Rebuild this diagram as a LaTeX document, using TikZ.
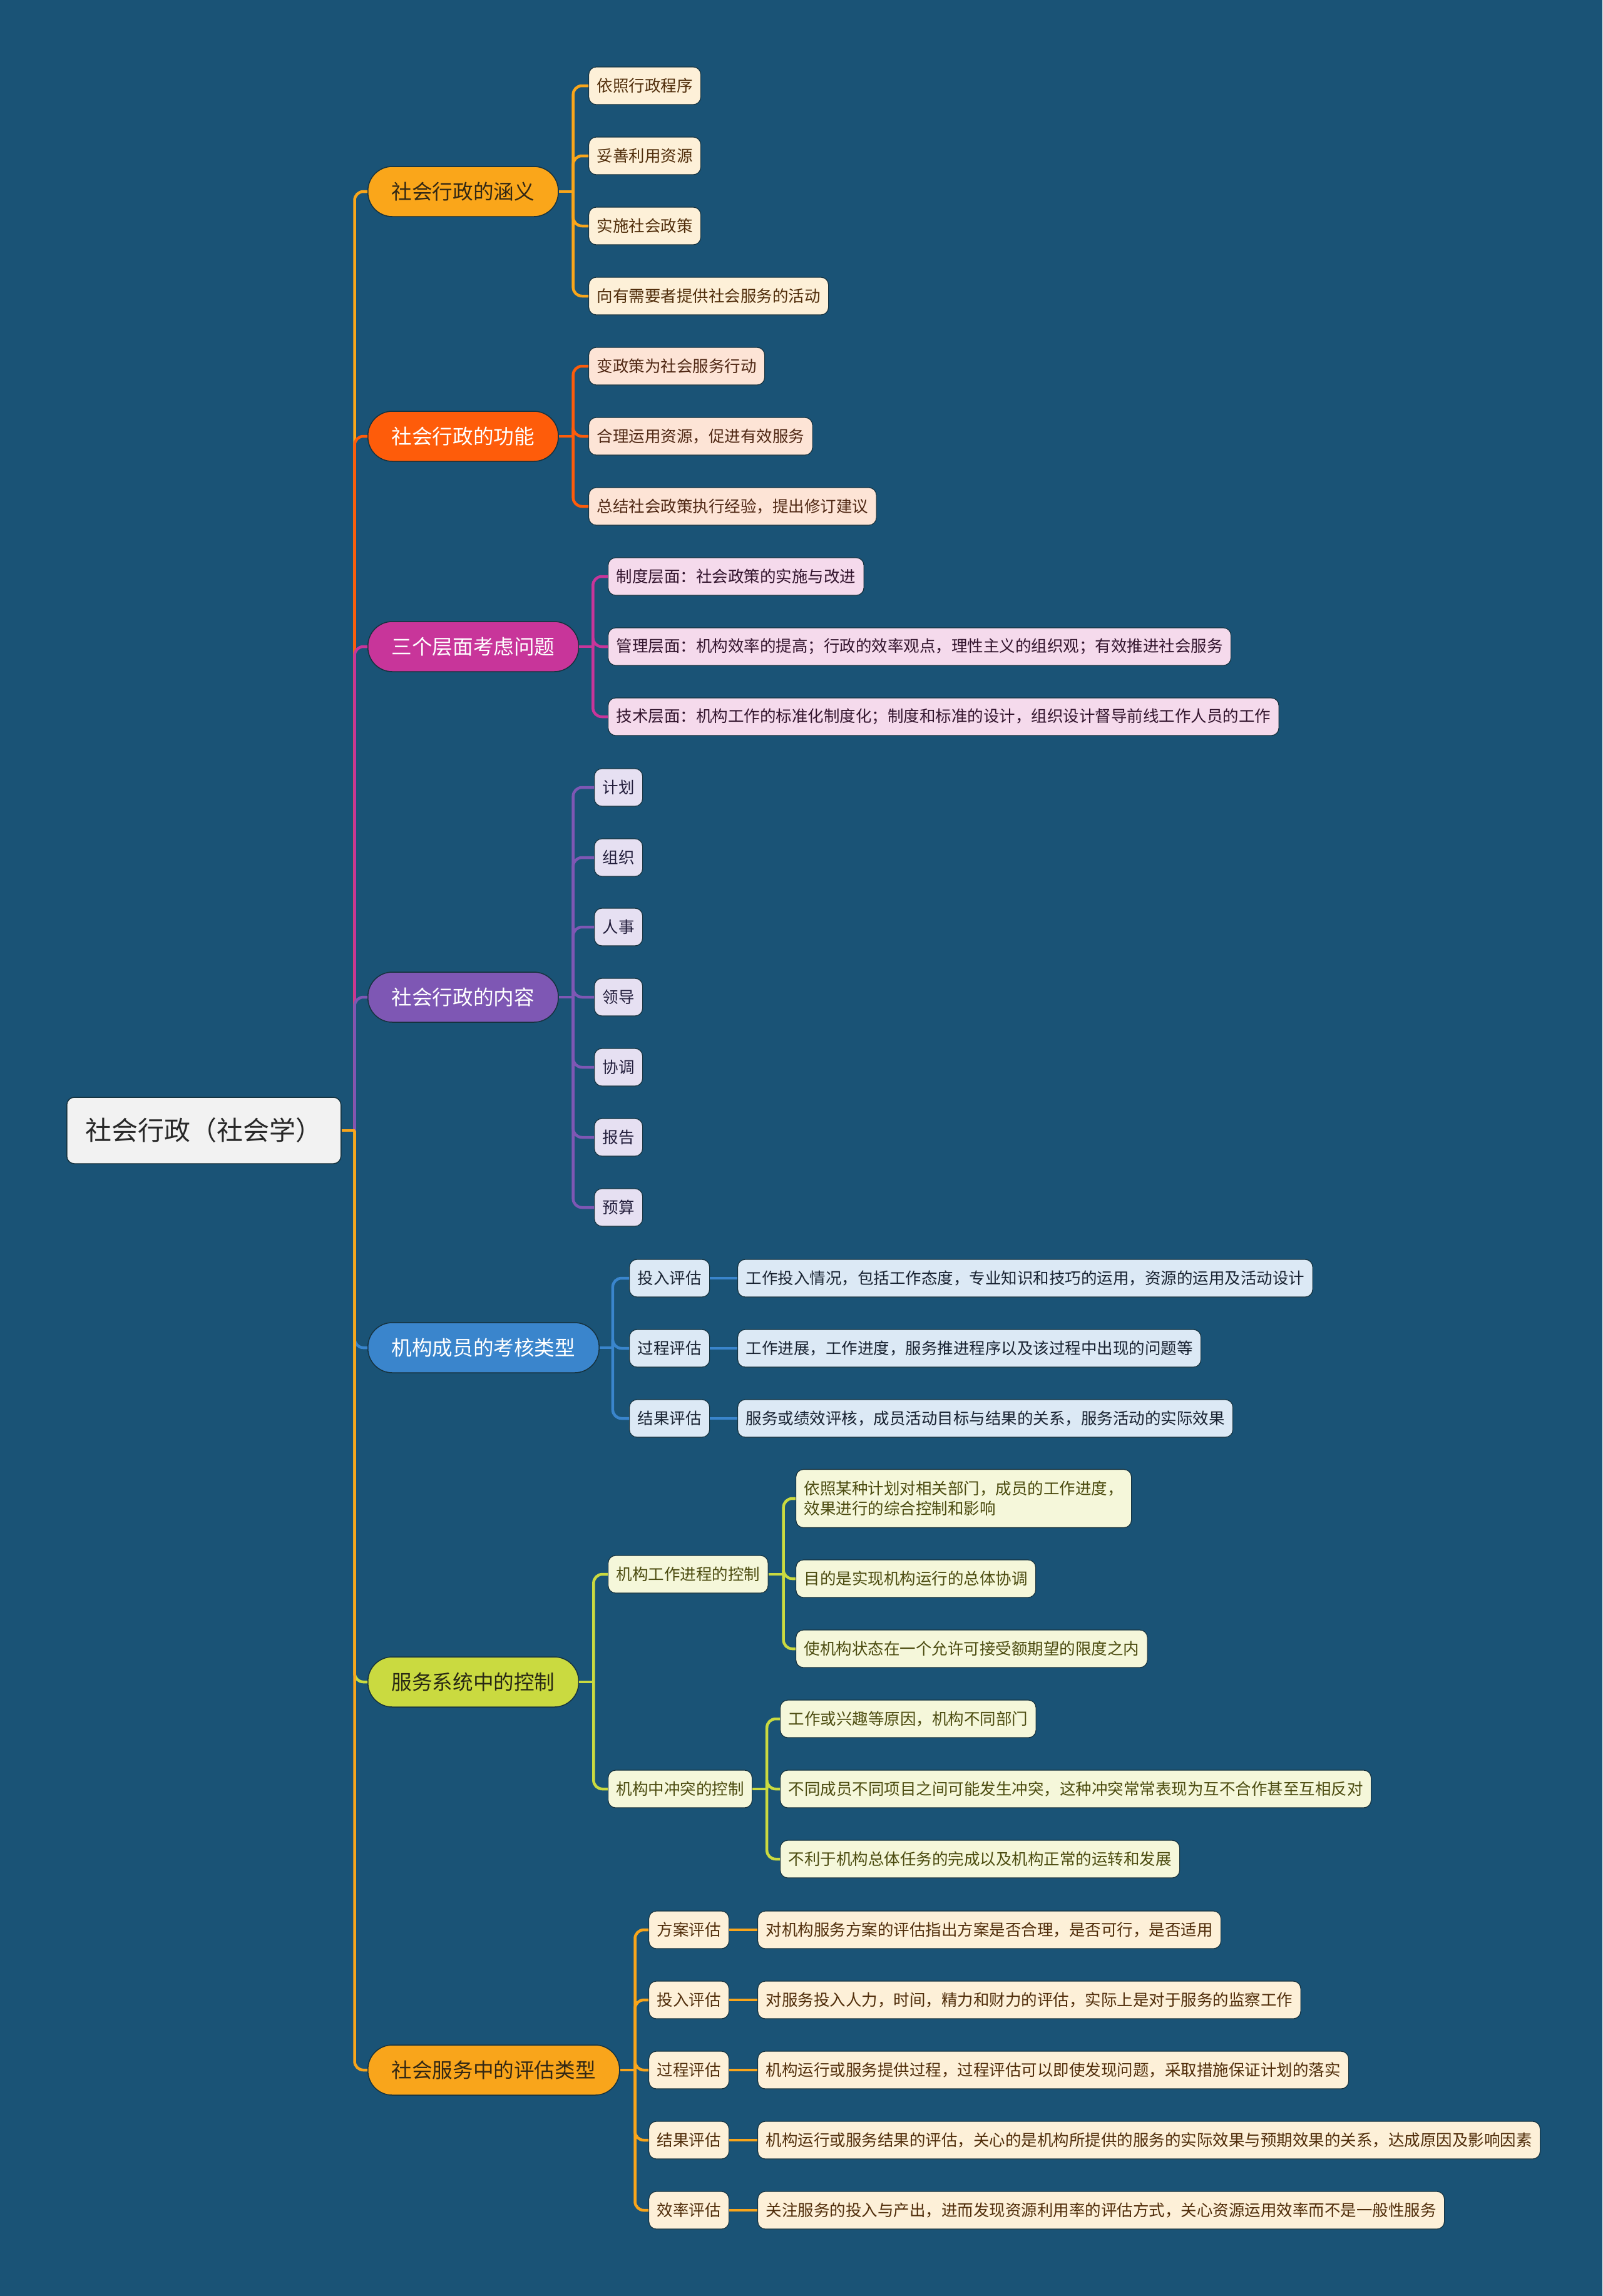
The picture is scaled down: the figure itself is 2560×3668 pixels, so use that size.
\documentclass[tikz,border=0pt]{standalone}
\usepackage{fontspec}
\newfontfamily\cjk{Noto Sans CJK SC}
\newcommand\rfnt{\cjk\fontsize{42}{50}\selectfont}
\newcommand\bfnt{\cjk\fontsize{32.6}{40}\selectfont}
\newcommand\lfnt{\cjk\fontsize{25.5}{31.7}\selectfont}
\definecolor{bgc}{RGB}{26,83,118}
\definecolor{edge}{RGB}{22,50,62}
\definecolor{rootfill}{RGB}{242,242,242}
\definecolor{roottext}{RGB}{40,40,40}
\definecolor{c1}{RGB}{250,166,26}
\definecolor{c2}{RGB}{254,92,10}
\definecolor{c3}{RGB}{200,53,154}
\definecolor{c4}{RGB}{126,87,180}
\definecolor{c5}{RGB}{58,133,204}
\definecolor{c6}{RGB}{202,218,64}
\definecolor{c7}{RGB}{249,165,27}
\definecolor{t1}{RGB}{51,40,20}
\definecolor{t6}{RGB}{40,40,20}
\definecolor{f1}{RGB}{253,240,216}
\definecolor{f2}{RGB}{253,228,214}
\definecolor{f3}{RGB}{245,218,236}
\definecolor{f4}{RGB}{230,224,242}
\definecolor{f5}{RGB}{220,233,245}
\definecolor{f6}{RGB}{245,247,218}
\definecolor{f7}{RGB}{253,240,216}
\definecolor{lt1}{RGB}{80,45,10}
\definecolor{lt2}{RGB}{80,40,20}
\definecolor{lt3}{RGB}{50,20,45}
\definecolor{lt4}{RGB}{35,30,60}
\definecolor{lt5}{RGB}{25,35,50}
\definecolor{lt6}{RGB}{75,75,15}
\definecolor{lt7}{RGB}{80,45,10}
\tikzset{
  rootbox/.style={draw=edge, line width=1.5, fill=rootfill, text=roottext, rounded corners=12, inner xsep=30, minimum height=106, font=\rfnt, anchor=west},
  branch/.style={draw=edge, line width=1.5, rounded corners=39, minimum height=80, inner xsep=38, font=\bfnt, anchor=west},
  leaf/.style={draw=edge, line width=1.2, rounded corners=12, minimum height=60, inner xsep=13, font=\lfnt, anchor=west},
  L1/.style={leaf, fill=f1, text=lt1},
  L2/.style={leaf, fill=f2, text=lt2},
  L3/.style={leaf, fill=f3, text=lt3},
  L4/.style={leaf, fill=f4, text=lt4},
  L5/.style={leaf, fill=f5, text=lt5},
  L6/.style={leaf, fill=f6, text=lt6},
  L7/.style={leaf, fill=f7, text=lt7},
  link/.style={line width=4.5, rounded corners=14},
}
\begin{document}
\begin{tikzpicture}[x=1pt,y=-1pt]
\fill[bgc] (0,0) rectangle (2560,3668);
\useasboundingbox (0,0) rectangle (2560,3668);

% root
\node[rootbox] (root) at (106,1806) {社会行政（社会学）};

% branches
\node[branch, fill=c1, text=t1] (b1) at (587,306) {社会行政的涵义};
\node[branch, fill=c2, text=white] (b2) at (587,697) {社会行政的功能};
\node[branch, fill=c3, text=white] (b3) at (587,1033) {三个层面考虑问题};
\node[branch, fill=c4, text=white] (b4) at (587,1593) {社会行政的内容};
\node[branch, fill=c5, text=white] (b5) at (587,2153) {机构成员的考核类型};
\node[branch, fill=c6, text=t6] (b6) at (587,2687) {服务系统中的控制};
\node[branch, fill=c7, text=t1] (b7) at (587,3307) {社会服务中的评估类型};

% branch 1 leaves
\node[L1] (a1) at (940,137) {依照行政程序};
\node[L1] (a2) at (940,249) {妥善利用资源};
\node[L1] (a3) at (940,361) {实施社会政策};
\node[L1] (a4) at (940,473) {向有需要者提供社会服务的活动};

% branch 2 leaves
\node[L2] (g1) at (940,585) {变政策为社会服务行动};
\node[L2] (g2) at (940,697) {合理运用资源，促进有效服务};
\node[L2] (g3) at (940,809) {总结社会政策执行经验，提出修订建议};

% branch 3 leaves
\node[L3] (s1) at (971,921) {制度层面：社会政策的实施与改进};
\node[L3] (s2) at (971,1033) {管理层面：机构效率的提高；行政的效率观点，理性主义的组织观；有效推进社会服务};
\node[L3] (s3) at (971,1145) {技术层面：机构工作的标准化制度化；制度和标准的设计，组织设计督导前线工作人员的工作};

% branch 4 leaves
\node[L4] (n1) at (949,1258) {计划};
\node[L4] (n2) at (949,1370) {组织};
\node[L4] (n3) at (949,1481) {人事};
\node[L4] (n4) at (949,1593) {领导};
\node[L4] (n5) at (949,1705) {协调};
\node[L4] (n6) at (949,1817) {报告};
\node[L4] (n7) at (949,1929) {预算};

% branch 5
\node[L5] (k1) at (1005,2042) {投入评估};
\node[L5] (k2) at (1005,2154) {过程评估};
\node[L5] (k3) at (1005,2266) {结果评估};
\node[L5] (kd1) at (1178,2042) {工作投入情况，包括工作态度，专业知识和技巧的运用，资源的运用及活动设计};
\node[L5] (kd2) at (1178,2154) {工作进展，工作进度，服务推进程序以及该过程中出现的问题等};
\node[L5] (kd3) at (1178,2266) {服务或绩效评核，成员活动目标与结果的关系，服务活动的实际效果};

% branch 6
\node[L6] (m1) at (971,2515) {机构工作进程的控制};
\node[L6] (m2) at (971,2858) {机构中冲突的控制};
\node[L6, align=left, minimum height=93] (p1) at (1271,2394) {依照某种计划对相关部门，成员的工作进度，\\效果进行的综合控制和影响};
\node[L6] (p2) at (1271,2522) {目的是实现机构运行的总体协调};
\node[L6] (p3) at (1271,2634) {使机构状态在一个允许可接受额期望的限度之内};
\node[L6] (q1) at (1246,2746) {工作或兴趣等原因，机构不同部门};
\node[L6] (q2) at (1246,2858) {不同成员不同项目之间可能发生冲突，这种冲突常常表现为互不合作甚至互相反对};
\node[L6] (q3) at (1246,2970) {不利于机构总体任务的完成以及机构正常的运转和发展};

% branch 7
\node[L7] (e1) at (1036,3083) {方案评估};
\node[L7] (e2) at (1036,3195) {投入评估};
\node[L7] (e3) at (1036,3307) {过程评估};
\node[L7] (e4) at (1036,3419) {结果评估};
\node[L7] (e5) at (1036,3531) {效率评估};
\node[L7] (ed1) at (1210,3083) {对机构服务方案的评估指出方案是否合理，是否可行，是否适用};
\node[L7] (ed2) at (1210,3195) {对服务投入人力，时间，精力和财力的评估，实际上是对于服务的监察工作};
\node[L7] (ed3) at (1210,3307) {机构运行或服务提供过程，过程评估可以即使发现问题，采取措施保证计划的落实};
\node[L7] (ed4) at (1210,3419) {机构运行或服务结果的评估，关心的是机构所提供的服务的实际效果与预期效果的关系，达成原因及影响因素};
\node[L7] (ed5) at (1210,3531) {关注服务的投入与产出，进而发现资源利用率的评估方式，关心资源运用效率而不是一般性服务};

% trunk connectors
\begin{scope}[on background layer/.try]
\end{scope}
\coordinate (tr) at ([xshift=21]root.east);
\draw[link, c1] (tr) |- (b1.west);
\draw[link, c2] (tr) |- (b2.west);
\draw[link, c3] (tr) |- (b3.west);
\draw[link, c4] (tr) |- (b4.west);
\draw[link, c5] (tr) |- (b5.west);
\draw[link, c6] (tr) |- (b6.west);
\draw[link, c7] (tr) |- (b7.west);
\draw[link, c7] (root.east) -- (tr);

% branch 1
\draw[link, c1] (b1.east) -- ++(23,0) coordinate (j1);
\foreach \c in {a1,a2,a3,a4} \draw[link, c1] (j1) |- (\c.west);
% branch 2
\draw[link, c2] (b2.east) -- ++(23,0) coordinate (j2);
\foreach \c in {g1,g2,g3} \draw[link, c2] (j2) |- (\c.west);
% branch 3
\draw[link, c3] (b3.east) -- ++(22,0) coordinate (j3);
\foreach \c in {s1,s2,s3} \draw[link, c3] (j3) |- (\c.west);
% branch 4
\draw[link, c4] (b4.east) -- ++(23,0) coordinate (j4);
\foreach \c in {n1,n2,n3,n4,n5,n6,n7} \draw[link, c4] (j4) |- (\c.west);
% branch 5
\draw[link, c5] (b5.east) -- ++(21,0) coordinate (j5);
\foreach \c in {k1,k2,k3} \draw[link, c5] (j5) |- (\c.west);
\draw[link, c5] (k1.east) -- (kd1.west);
\draw[link, c5] (k2.east) -- (kd2.west);
\draw[link, c5] (k3.east) -- (kd3.west);
% branch 6
\draw[link, c6] (b6.east) -- ++(23,0) coordinate (j6);
\foreach \c in {m1,m2} \draw[link, c6] (j6) |- (\c.west);
\draw[link, c6] (m1.east) -- ++(24,0) coordinate (j61);
\foreach \c in {p1,p2,p3} \draw[link, c6] (j61) |- (\c.west);
\draw[link, c6] (m2.east) -- ++(23,0) coordinate (j62);
\foreach \c in {q1,q2,q3} \draw[link, c6] (j62) |- (\c.west);
% branch 7
\draw[link, c7] (b7.east) -- ++(24,0) coordinate (j7);
\foreach \c in {e1,e2,e3,e4,e5} \draw[link, c7] (j7) |- (\c.west);
\draw[link, c7] (e1.east) -- (ed1.west);
\draw[link, c7] (e2.east) -- (ed2.west);
\draw[link, c7] (e3.east) -- (ed3.west);
\draw[link, c7] (e4.east) -- (ed4.west);
\draw[link, c7] (e5.east) -- (ed5.west);
\end{tikzpicture}
\end{document}
